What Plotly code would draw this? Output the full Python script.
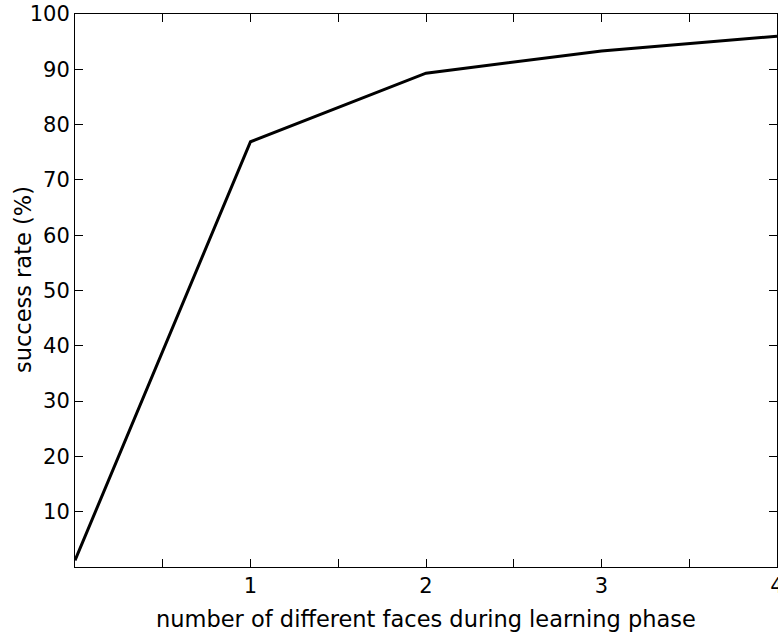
import plotly.graph_objects as go

faces = [0, 1, 2, 3, 4]
success_rate = [1.2, 76.9, 89.3, 93.3, 96.0]
x_tick_vals = [0.5, 1, 1.5, 2, 2.5, 3, 3.5, 4]
x_tick_text = ["", "1", "", "2", "", "3", "", "4"]
y_tick_vals = [10, 20, 30, 40, 50, 60, 70, 80, 90, 100]
x_title = "number of different faces during learning phase"
y_title = "success rate (%)"

fig = go.Figure()
fig.add_trace(go.Scatter(x=faces, y=success_rate, mode="lines",
                         line=dict(color="blue", width=1, dash="dash"), showlegend=False))
fig.add_trace(go.Scatter(x=faces, y=success_rate, mode="lines",
                         line=dict(color="black", width=3), showlegend=False))

font = dict(family="DejaVu Sans", size=21, color="black")
title_font = dict(family="DejaVu Sans", size=22.5, color="black")
fig.update_layout(
    width=778, height=639,
    margin=dict(l=75, r=1, t=14, b=72),
    plot_bgcolor="white", paper_bgcolor="white",
    font=font,
)
fig.update_xaxes(range=[0, 4], tickvals=x_tick_vals, ticktext=x_tick_text,
                 ticks="inside", ticklen=8, tickwidth=1, tickcolor="black",
                 showline=True, linecolor="black", linewidth=1, mirror="ticks",
                 showgrid=False, zeroline=False, automargin=False,
                 ticklabeloverflow="allow",
                 title=dict(text=x_title, standoff=14, font=title_font),
                 tickfont=font)
fig.update_yaxes(range=[0, 100], tickvals=y_tick_vals,
                 ticks="inside", ticklen=8, tickwidth=1, tickcolor="black",
                 showline=True, linecolor="black", linewidth=1, mirror="ticks",
                 showgrid=False, zeroline=False, automargin=False,
                 ticklabeloverflow="allow",
                 tickfont=font)
fig.add_annotation(text=y_title, textangle=-90, xref="paper", yref="paper",
                   x=-0.074, y=0.519, xanchor="center", yanchor="middle",
                   showarrow=False, font=title_font)
fig.write_html("out.html", config={"displayModeBar": False},
               post_script="document.body.style.margin='0';document.body.style.overflow='hidden';")
